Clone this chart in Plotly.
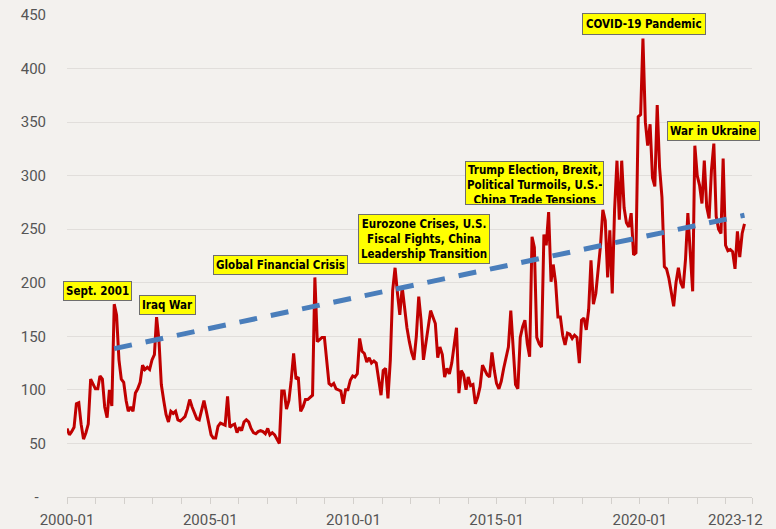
import pandas as pd
import plotly.graph_objects as go

# ---------------- data ----------------
months = pd.date_range("2000-01-01", "2023-12-01", freq="MS")

epu_values = [
    64, 58, 61, 65, 87, 88, 68, 54, 60, 68, 110, 105,          # 2000
    101, 101, 113, 110, 84, 74, 100, 85, 180, 170, 128, 110,    # 2001
    107, 90, 80, 84, 80, 97, 101, 107, 123, 119, 121, 119,      # 2002
    128, 133, 168, 146, 105, 90, 77, 70, 80, 78, 80, 72,        # 2003
    71, 73, 75, 82, 91, 84, 78, 73, 72, 82, 90, 80,             # 2004
    67, 58, 55, 55, 66, 69, 68, 67, 94, 65, 67, 68,             # 2005
    60, 65, 62, 70, 72, 70, 64, 60, 59, 61, 62, 61,             # 2006
    59, 64, 58, 60, 58, 54, 50, 99, 99, 82, 90, 109,            # 2007
    134, 110, 112, 80, 84, 91, 91, 93, 95, 205, 145, 147,       # 2008
    149, 149, 131, 106, 104, 106, 101, 100, 99, 87, 100, 100,   # 2009
    109, 113, 112, 115, 148, 136, 134, 126, 130, 125, 127, 125, # 2010
    110, 95, 118, 120, 92, 128, 193, 214, 190, 170, 196, 175,   # 2011
    158, 145, 135, 128, 150, 187, 165, 128, 145, 160, 174, 168, # 2012
    162, 130, 140, 133, 112, 120, 115, 125, 140, 158, 97, 118,  # 2013
    114, 100, 112, 104, 105, 87, 93, 103, 123, 118, 114, 112,   # 2014
    135, 118, 106, 101, 108, 120, 131, 140, 174, 140, 105, 101, # 2015
    149, 159, 165, 143, 131, 243, 233, 149, 143, 140, 245, 235, # 2016
    266, 201, 217, 200, 168, 168, 151, 142, 153, 152, 148, 151, # 2017
    149, 125, 165, 167, 156, 175, 221, 180, 190, 212, 235, 268, # 2018
    258, 205, 249, 190, 268, 314, 259, 314, 270, 256, 252, 265, # 2019
    226, 228, 355, 357, 428, 350, 328, 348, 298, 290, 366, 308, # 2020
    280, 215, 213, 204, 192, 178, 200, 214, 200, 195, 222, 265, # 2021
    228, 192, 328, 300, 291, 274, 314, 271, 260, 305, 330, 262, # 2022
    250, 246, 316, 235, 230, 231, 229, 213, 248, 224, 246, 255, # 2023
]

trend_dates = ["2001-09-01", "2023-12-01"]
trend_values = [138.5, 263]

y_ticks = [0, 50, 100, 150, 200, 250, 300, 350, 400, 450]
y_tick_labels = ["-\u00a0\u00a0", "50", "100", "150", "200", "250", "300", "350", "400", "450"]

x_tick_dates = [f"{y}-01-01" for y in range(2000, 2024)] + ["2023-12-01"]
x_labelled = {"2000-01-01": "2000-01", "2005-01-01": "2005-01", "2010-01-01": "2010-01",
              "2015-01-01": "2015-01", "2020-01-01": "2020-01"}
x_tick_labels = [x_labelled.get(d, "") for d in x_tick_dates]
last_label = "2023-12"

event_texts = [
    "Sept. 2001",
    "Iraq War",
    "Global Financial Crisis",
    "Eurozone Crises, U.S.<br>Fiscal Fights, China<br>Leadership Transition",
    "Trump Election, Brexit,<br>Political Turmoils, U.S.-<br>China Trade Tensions",
    "COVID-19 Pandemic",
    "War in Ukraine",
]
# label box centres (paper coordinates of the plot area)
event_pos = [
    (0.0438, 0.427),
    (0.146, 0.398),
    (0.3124, 0.481),
    (0.5212, 0.535),
    (0.6825, 0.652),
    (0.8423, 0.982),
    (0.9431, 0.759),
]

# ---------------- figure ----------------
BG = "#f3f1ee"
GRID = "#e1dedb"
TICKCOL = "#555555"
ANN_FONT = "Liberation Sans Narrow, DejaVu Sans Condensed, Roboto"

fig = go.Figure()

fig.add_trace(go.Scatter(
    x=months, y=epu_values, mode="lines",
    line=dict(color="#c00000", width=3), xaxis="x", yaxis="y",
    hoverinfo="x+y", showlegend=False,
))
fig.add_trace(go.Scatter(
    x=trend_dates, y=trend_values, mode="lines",
    line=dict(color="#4a7ebb", width=5, dash="18px,14px"), xaxis="x", yaxis="y",
    hoverinfo="skip", showlegend=False,
))
# empty helper trace so the date tick axis (x2) is drawn
fig.add_trace(go.Scatter(
    x=[x_tick_dates[0], x_tick_dates[-1]], y=[None, None], mode="lines",
    xaxis="x2", yaxis="y", hoverinfo="skip", showlegend=False,
))

annotations = []
for txt, (px, py) in zip(event_texts, event_pos):
    ann = dict(
        text="<b>" + txt.replace("<br>", "</b><br><b>") + "</b>",
        xref="paper", yref="paper", x=px, y=py,
        xanchor="center", yanchor="middle", showarrow=False,
        font=dict(family=ANN_FONT, size=11.5, color="#000000"),
        bgcolor="#ffff00", bordercolor="#6e6e6e", borderwidth=1, borderpad=2,
        align="center",
    )
    if txt.startswith("Trump"):
        ann["height"] = 40
        ann["valign"] = "top"
        ann["borderpad"] = 1
    if txt.startswith("COVID"):
        ann["borderpad"] = 3
    annotations.append(ann)

annotations.append(dict(
    text=last_label, xref="paper", yref="paper", x=0.9766, y=-0.047,
    xanchor="center", yanchor="middle", showarrow=False,
    font=dict(family="Roboto", size=15, color=TICKCOL),
))

fig.update_layout(
    width=776, height=529, autosize=False,
    margin=dict(l=67, r=24, t=15, b=32, pad=0),
    paper_bgcolor=BG, plot_bgcolor=BG,
    xaxis=dict(
        type="date", range=["2000-01-01", "2024-03-07"], automargin=False,
        showgrid=False, zeroline=False, showline=False,
        showticklabels=False, ticks="",
    ),
    xaxis2=dict(
        type="date", overlaying="x", anchor="y", side="bottom", automargin=False,
        range=["2000-01-01", "2023-12-01"],
        tickmode="array", tickvals=x_tick_dates, ticktext=x_tick_labels,
        ticks="outside", ticklen=6, tickcolor="#d3d0cc", tickwidth=1,
        showline=True, linecolor="#d3d0cc", linewidth=1,
        showgrid=False, zeroline=False, ticklabelstandoff=3,
        tickfont=dict(family="Roboto", size=15, color=TICKCOL),
    ),
    yaxis=dict(
        range=[-0.05, 450.05], tickmode="array", tickvals=y_ticks, ticktext=y_tick_labels,
        automargin=False,
        showgrid=True, gridcolor=GRID, gridwidth=1, zeroline=False, showline=False,
        ticks="", ticklabelstandoff=20, ticklabeloverflow="allow",
        tickfont=dict(family="Roboto", size=15, color=TICKCOL),
    ),
    annotations=annotations,
    showlegend=False,
)

# remove the default page margin so the figure sits at the window's top-left corner
fig.write_html(
    "out.html",
    config={"displayModeBar": False},
    post_script="document.body.style.margin='0';",
)
